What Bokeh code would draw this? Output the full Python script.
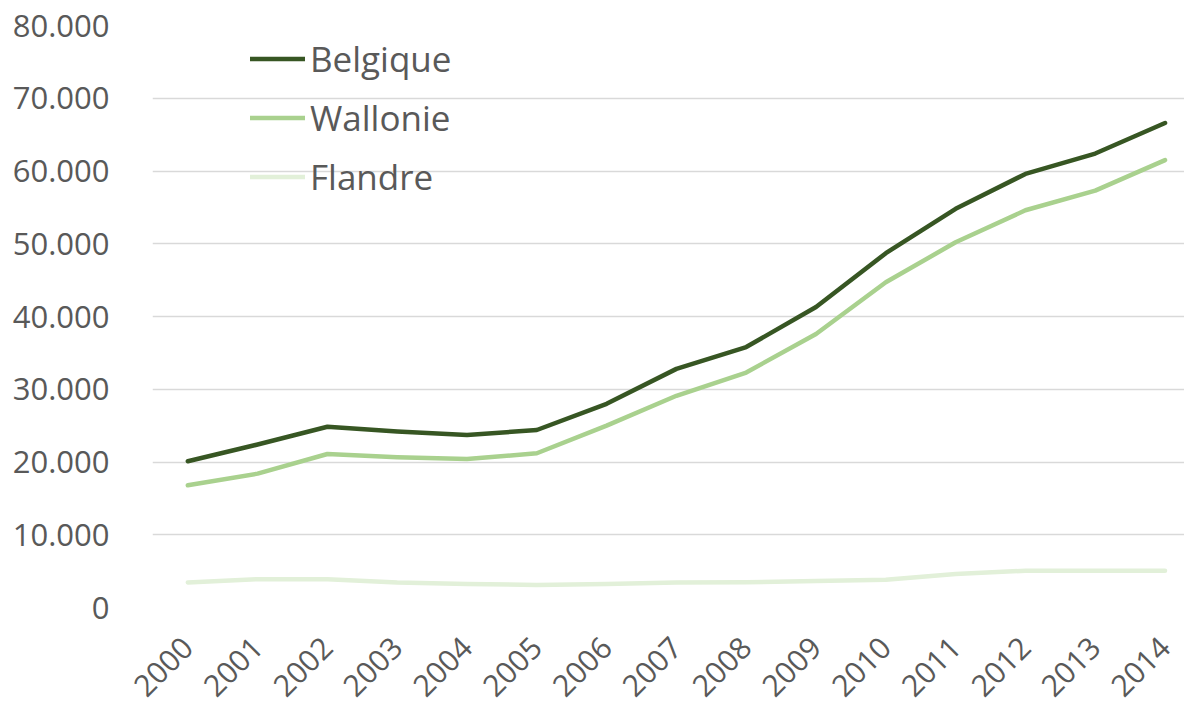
from bokeh.plotting import figure
from bokeh.models import FixedTicker, Legend, LegendItem, Range1d
from bokeh.embed import file_html
from bokeh.resources import INLINE

years = list(range(2000, 2015))
belgique = [20100, 22400, 24850, 24200, 23700, 24400, 28000, 32800, 35800, 41300,
            48700, 54800, 59600, 62400, 66600]
wallonie = [16800, 18400, 21100, 20650, 20400, 21200, 25000, 29100, 32300, 37600,
            44700, 50200, 54600, 57300, 61500]
flandre = [3450, 3900, 3900, 3450, 3220, 3100, 3220, 3440, 3470, 3650,
           3800, 4600, 5050, 5050, 5050]

series_names = ["Belgique", "Wallonie", "Flandre"]
series_colors = ["#375623", "#A9D18E", "#E2F0D9"]

y_ticks = [0, 10000, 20000, 30000, 40000, 50000, 60000, 70000, 80000]
y_tick_labels = ["0", "10.000", "20.000", "30.000", "40.000", "50.000",
                 "60.000", "70.000", "80.000"]
x_tick_labels = [str(y) for y in years]

TEXT = "#595959"
FONT = "Open Sans"

p = figure(width=1184, height=708, output_backend="svg", toolbar_location=None,
           x_range=Range1d(1999.494, 2014.279), y_range=Range1d(0, 80000),
           min_border_left=152, min_border_right=0, min_border_top=25,
           min_border_bottom=101)
p.outline_line_color = None
p.background_fill_color = "white"
p.border_fill_color = "white"

renderers = []
for name, vals, col in zip(series_names, [belgique, wallonie, flandre], series_colors):
    r = p.line(years, vals, line_color=col, line_width=4.5, line_cap="round",
               line_join="round")
    renderers.append((name, r))

# axes
p.yaxis.ticker = FixedTicker(ticks=y_ticks)
p.yaxis.major_label_overrides = dict(zip(y_ticks, y_tick_labels))
p.yaxis.axis_line_color = None
p.yaxis.major_tick_line_color = None
p.yaxis.minor_tick_line_color = None
p.yaxis.major_label_text_font = FONT
p.yaxis.major_label_text_font_size = "31px"
p.yaxis.major_label_text_color = TEXT
p.yaxis.major_label_standoff = 37

p.xaxis.ticker = FixedTicker(ticks=years)
p.xaxis.major_label_overrides = dict(zip(years, x_tick_labels))
p.xaxis.axis_line_color = None
p.xaxis.major_tick_line_color = None
p.xaxis.minor_tick_line_color = None
p.xaxis.major_label_text_font = FONT
p.xaxis.major_label_text_font_size = "30px"
p.xaxis.major_label_text_color = TEXT
p.xaxis.major_label_orientation = 0.785398
p.xaxis.major_label_standoff = 29

p.xgrid.grid_line_color = None
p.ygrid.grid_line_color = "#d9d9d9"
p.ygrid.grid_line_width = 1.5

legend = Legend(items=[LegendItem(label=n, renderers=[r]) for n, r in renderers],
                location=(98, 401), orientation="vertical")
legend.background_fill_alpha = 0
legend.border_line_color = None
legend.padding = 0
legend.margin = 0
legend.spacing = 0
legend.glyph_width = 55
legend.glyph_height = 59
legend.label_height = 59
legend.label_standoff = 5
legend.label_text_font = FONT
legend.label_text_font_size = "35px"
legend.label_text_color = TEXT
p.add_layout(legend, "center")

open("out.html", "w").write(file_html(p, INLINE))
